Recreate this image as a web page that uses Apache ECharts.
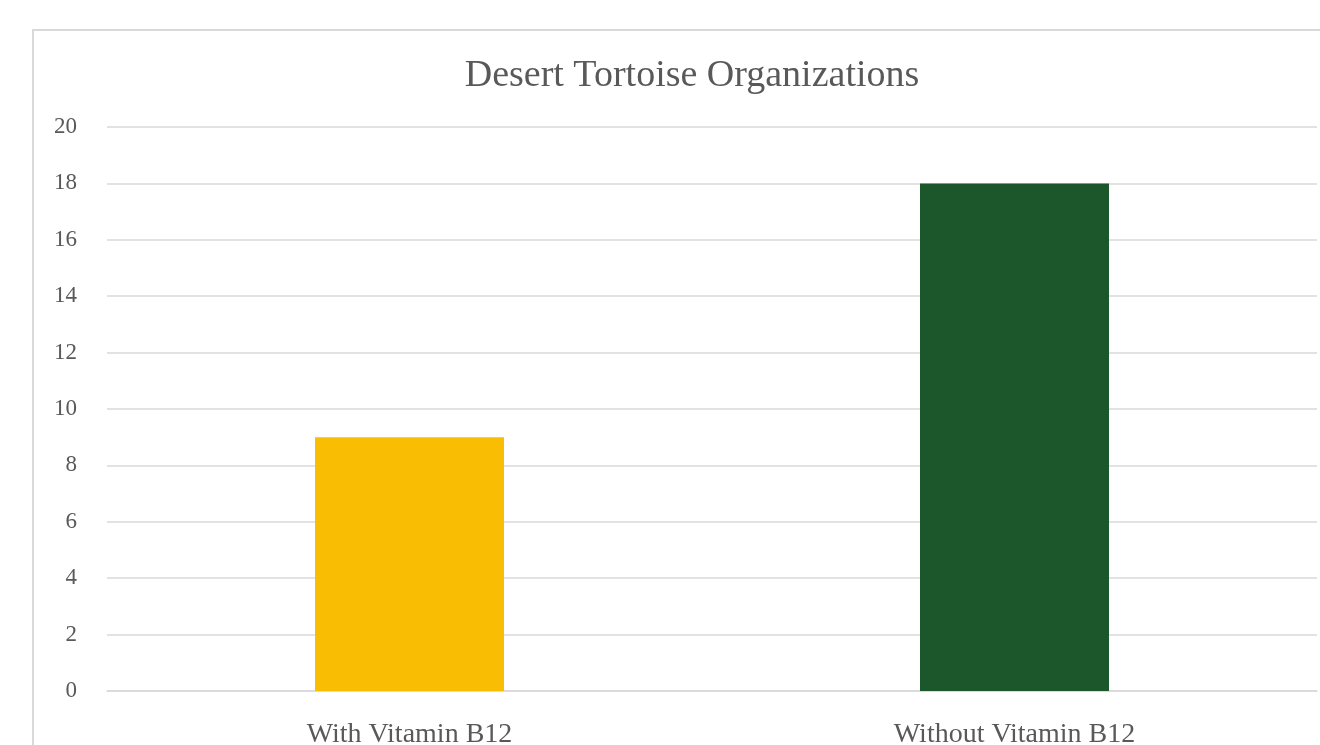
<!DOCTYPE html>
<html>
<head>
<meta charset="utf-8">
<script src="https://cdn.jsdelivr.net/npm/echarts@6/dist/echarts.min.js"></script>
<style>
html,body{margin:0;padding:0;background:#fff;}
#main{width:1320px;height:745px;}
</style>
</head>
<body>
<div id="main"></div>
<script>
const titleText = "Desert Tortoise Organizations";
const categories = ["With Vitamin B12", "Without Vitamin B12"];
const values = [9, 18];
const barColors = ["#F9BE03", "#1C572B"];
const yTicks = { min: 0, max: 20, interval: 2 };

const chart = echarts.init(document.getElementById('main'), null, {renderer: 'canvas'});
const font = "'Liberation Serif', 'DejaVu Serif', serif";
chart.setOption({
  animation: false,
  backgroundColor: '#ffffff',
  title: {
    text: titleText,
    left: 687,
    textAlign: 'center',
    top: 52,
    textStyle: { fontFamily: font, fontSize: 38, fontWeight: 'normal', color: '#595959' }
  },
  graphic: [{
    type: 'rect',
    shape: { x: 33, y: 30, width: 1400, height: 800 },
    style: { fill: 'none', stroke: '#d9d9d9', lineWidth: 2 },
    silent: true
  }],
  grid: { left: 107, right: 3, top: 127, bottom: 54, containLabel: false, outerBoundsMode: 'none' },
  xAxis: {
    type: 'category',
    data: categories,
    axisTick: { show: false },
    axisLine: { lineStyle: { color: '#d9d9d9', width: 1.5 } },
    axisLabel: { fontFamily: font, fontSize: 28, color: '#595959', margin: 30 }
  },
  yAxis: {
    type: 'value',
    min: yTicks.min, max: yTicks.max, interval: yTicks.interval,
    axisLine: { show: false },
    axisTick: { show: false },
    splitLine: { lineStyle: { color: '#d9d9d9', width: 1.5 } },
    axisLabel: { fontFamily: font, fontSize: 23, color: '#595959', margin: 30 }
  },
  series: [{
    type: 'bar',
    data: values.map((v, i) => ({ value: v, itemStyle: { color: barColors[i] } })),
    barWidth: 189
  }]
});
</script>
</body>
</html>
